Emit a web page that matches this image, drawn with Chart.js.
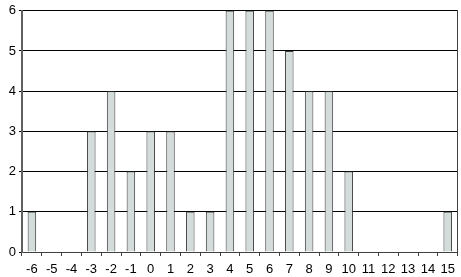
<!DOCTYPE html>
<html>
<head>
<meta charset="utf-8">
<script src="https://cdn.jsdelivr.net/npm/chart.js@4"></script>
<style>
  html, body { margin: 0; padding: 0; background: #fff; }
  #wrap { width: 461px; height: 277px; }
</style>
</head>
<body>
<div id="wrap"><canvas id="chart"></canvas></div>
<script>
// categories along the bottom
const labels = ['-6', '-5', '-4', '-3', '-2', '-1', '0', '1', '2', '3', '4', '5', '6', '7', '8', '9', '10', '11', '12', '13', '14', '15'];
// bar heights
const counts = [1, 0, 0, 3, 4, 2, 3, 3, 1, 1, 6, 6, 6, 5, 4, 4, 2, 0, 0, 0, 0, 1];
// y tick values
const yTicks = [0, 1, 2, 3, 4, 5, 6];

const font = { family: 'Arial, "Liberation Sans", sans-serif', size: 13 };

new Chart(document.getElementById('chart').getContext('2d'), {
    type: 'bar',
    data: {
        labels: labels,
        datasets: [{
            data: counts,
            backgroundColor: '#d3dbdb',
            borderColor: '#3c3c3c',
            borderWidth: 1,
            categoryPercentage: 1,
            barPercentage: 0.43
        }]
    },
    options: {
        responsive: true,
        maintainAspectRatio: false,
        animation: false,
        layout: { padding: { top: 5, right: 3, left: 0, bottom: 0 } },
        plugins: { legend: { display: false }, tooltip: { enabled: false } },
        scales: {
            x: {
                offset: true,
                grid: { offset: true, drawOnChartArea: false, tickLength: 4, color: '#404040' },
                border: { color: '#404040', width: 1 },
                ticks: { color: '#000', font: font, padding: 6, maxRotation: 0, autoSkip: false },
                afterFit: function(scale) { scale.height = 25; }
            },
            y: {
                min: 0,
                max: 6,
                afterBuildTicks: function(scale) { scale.ticks = yTicks.map(v => ({ value: v })); },
                grid: { color: '#000', tickLength: 3, lineWidth: 1 },
                border: { color: '#606060', width: 2 },
                ticks: { color: '#000', font: font, padding: 3 },
                afterFit: function(scale) { scale.width = 22; }
            },
            y2: {
                position: 'right',
                min: 0,
                max: 6,
                grid: { display: false },
                border: { color: '#404040', width: 1 },
                ticks: { display: false },
                afterFit: function(scale) { scale.width = 0; }
            }
        }
    }
});
</script>
</body>
</html>
